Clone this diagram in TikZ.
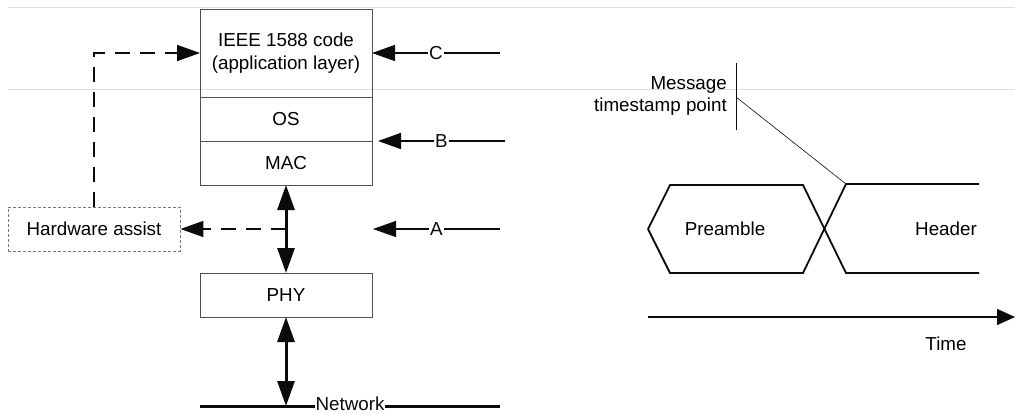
\documentclass[tikz,border=0pt]{standalone}
\usepackage{fontspec}
\setmainfont{Liberation Sans}
\usepackage{tikz}
\usetikzlibrary{arrows.meta,positioning,calc}
\definecolor{ink}{HTML}{0B0B0B}
\definecolor{frame}{HTML}{505050}
\definecolor{muted}{HTML}{7A7A7A}
\definecolor{rule}{HTML}{DCDCDC}

\begin{document}
\begin{tikzpicture}[x=1pt,y=-1pt,
    font=\fontsize{18.8}{22.5}\selectfont,
    layer/.style={draw=frame,line width=1pt,minimum width=172,minimum height=44,
                  inner sep=0pt,outer sep=0pt,align=center},
    tap/.style={ink,line width=1.5pt,-{Triangle[length=23pt,width=16pt]}},
    bus/.style={ink,line width=3pt,{Triangle[length=25pt,width=17pt]}-{Triangle[length=25pt,width=17pt]}},
    hint/.style={ink,line width=1.8pt,dash pattern=on 15pt off 10pt},
    tag/.style={fill=white,inner sep=1pt}]
  \useasboundingbox (0,0) rectangle (1015,413);
  % faint scan rules
  \draw[rule,line width=0.8pt] (8,7) -- (1015,7);
  \draw[rule,line width=0.8pt] (8,89) -- (1015,89);

  % protocol stack
  \node[layer,minimum height=88] (app) at (286,53) {IEEE 1588 code\\(application layer)};
  \node[layer,below=0pt of app] (os) {OS};
  \node[layer,below=0pt of os] (mac) {MAC};
  \node[layer] (phy) at (286,295) {PHY};
  \node[draw=muted,line width=0.9pt,dash pattern=on 3pt off 2pt,minimum width=172,
        minimum height=44,inner sep=0pt] (hw) at (94,229) {Hardware assist};

  \coordinate (netL) at (200,406);
  \coordinate (netR) at (500,406);
  \draw[ink,line width=3pt] (netL) -- node[tag,anchor=base,yshift=-4pt,text depth=0pt]{Network} (netR);
  \draw[bus] (mac.south) -- (phy.north);
  \draw[bus] (phy.south) -- (phy.south |- netL);

  \coordinate (hwTap) at (mac.south |- hw.east);
  \draw[hint,-{Triangle[length=23pt,width=16pt]}] (hwTap) -- (hw.east);
  \draw[hint,-{Triangle[length=23pt,width=16pt]}] (hw.north) |- (app.west);

  % timestamp points
  \coordinate (cIn) at (500,53);
  \coordinate (bIn) at (505,141);
  \coordinate (bEnd) at (378,141);
  \coordinate (aIn) at (500,229);
  \coordinate (aEnd) at (373,229);
  \draw[tap] (cIn) -- node[tag]{C} (app.east);
  \draw[tap] (bIn) -- node[tag]{B} (bEnd);
  \draw[tap] (aIn) -- node[tag]{A} (aEnd);

  % message on the wire
  \node[anchor=east,align=right,inner sep=0pt] (stamp) at (727,96) {Message\\timestamp point};
  \draw[ink,line width=1pt] (736,63) -- (736,130);
  \draw[ink,line width=0.6pt] (736,97) -- (846,184);
  \draw[ink,line width=1.8pt,line join=miter] (648,229) -- (670,185) -- (803,185) -- (846,273) -- (979,273);
  \draw[ink,line width=1.8pt,line join=miter] (648,229) -- (670,273) -- (803,273) -- (846,184) -- (979,184);
  \node (pre) at (725,229) {Preamble};
  \node (hdr) at (946,229) {Header};
  \draw[ink,line width=1.5pt,-{Triangle[length=18pt,width=16pt]}] (648,317) -- (1015,317);
  \node (time) at (946,344) {Time};
\end{tikzpicture}
\end{document}
